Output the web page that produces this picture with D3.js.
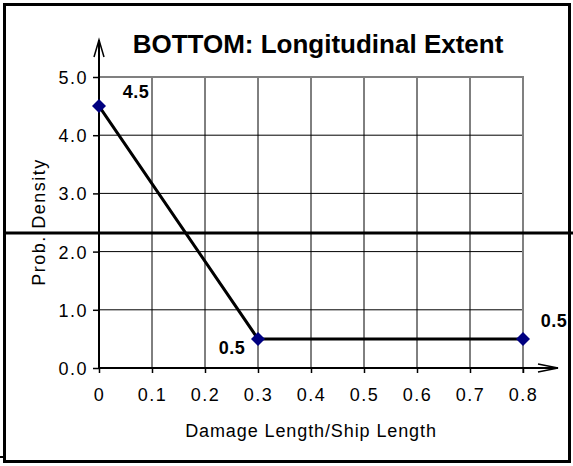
<!DOCTYPE html>
<html>
<head>
<meta charset="utf-8">
<script src="https://cdn.jsdelivr.net/npm/d3@7"></script>
<style>
  body { margin: 0; background: #fff; }
  text { font-family: "Liberation Sans", Arial, sans-serif; }
</style>
</head>
<body>
<div id="chart"></div>
<script>
// données
var xValues = [0, 0.3, 0.8];
var yValues = [4.5, 0.5, 0.5];
var pointLabels = ["4.5", "0.5", "0.5"];
var xTicks = [0, 0.1, 0.2, 0.3, 0.4, 0.5, 0.6, 0.7, 0.8];
var yTicks = [0, 1, 2, 3, 4, 5];

function chart() {
    var width = 573, height = 466;
    var pLeft = 99, pRight = 523, pTop = 77, pBottom = 368;

    var x = d3.scaleLinear().domain([0, 0.8]).range([pLeft, pRight]);
    var y = d3.scaleLinear().domain([0, 5]).range([pBottom, pTop]);

    var svg = d3.select("#chart").append("svg")
        .attr("width", width)
        .attr("height", height);

    svg.append("rect").attr("width", width).attr("height", height).attr("fill", "#fff");

    // grille
    svg.append("g").selectAll("line")
        .data(xTicks.slice(1, -1))
        .enter().append("line")
        .attr("x1", function (d) { return x(d); })
        .attr("x2", function (d) { return x(d); })
        .attr("y1", pTop).attr("y2", pBottom)
        .attr("stroke", "#000").attr("stroke-width", 1);

    svg.append("g").selectAll("line")
        .data(yTicks.slice(1, -1))
        .enter().append("line")
        .attr("x1", pLeft).attr("x2", pRight)
        .attr("y1", function (d) { return y(d); })
        .attr("y2", function (d) { return y(d); })
        .attr("stroke", "#000").attr("stroke-width", 1);

    // bord gris de la zone
    svg.append("path")
        .attr("d", "M" + pLeft + "," + y(5) + "H" + x(0.8) + "V" + (pBottom + 5))
        .attr("fill", "none").attr("stroke", "#808080").attr("stroke-width", 2);

    // axes
    var yAxis = d3.axisLeft(y).tickValues(yTicks).tickSize(6).tickPadding(5)
        .tickFormat(d3.format(".1f"));
    var gy = svg.append("g").attr("transform", "translate(" + pLeft + ",0)").call(yAxis);
    gy.attr("font-size", 18).attr("font-family", "Liberation Sans, Arial, sans-serif");
    gy.select(".domain").remove();
    gy.selectAll("text").attr("fill", "#000").attr("letter-spacing", 1.5).attr("dy", "0.36em");
    gy.selectAll("line").attr("stroke-width", 1.5);

    var xAxis = d3.axisBottom(x).tickValues(xTicks).tickSize(5).tickPadding(15)
        .tickFormat(function (d) { return d === 0 ? "0" : d3.format(".1f")(d); });
    var gx = svg.append("g").attr("transform", "translate(0," + pBottom + ")").call(xAxis);
    gx.attr("font-size", 18).attr("font-family", "Liberation Sans, Arial, sans-serif");
    gx.select(".domain").remove();
    gx.selectAll("text").attr("fill", "#000").attr("letter-spacing", 1.5);
    gx.selectAll("line").attr("stroke-width", 1.5);

    // lignes d'axe avec flèches
    svg.append("line").attr("x1", pLeft).attr("x2", pLeft).attr("y1", pBottom + 1).attr("y2", 40)
        .attr("stroke", "#000").attr("stroke-width", 2);
    svg.append("path").attr("d", "M" + (pLeft - 5) + ",57L" + pLeft + ",40L" + (pLeft + 5) + ",57")
        .attr("fill", "none").attr("stroke", "#000").attr("stroke-width", 1.5);
    svg.append("line").attr("x1", pLeft - 1).attr("x2", 558).attr("y1", pBottom).attr("y2", pBottom)
        .attr("stroke", "#000").attr("stroke-width", 2);
    svg.append("path").attr("d", "M538," + (pBottom - 4) + "L558," + pBottom + "L538," + (pBottom + 4))
        .attr("fill", "none").attr("stroke", "#000").attr("stroke-width", 1.5);

    // série
    var pts = xValues.map(function (d, i) { return { x: d, y: yValues[i], label: pointLabels[i] }; });
    var line = d3.line().x(function (d) { return x(d.x); }).y(function (d) { return y(d.y); });
    svg.append("path").datum(pts).attr("d", line)
        .attr("fill", "none").attr("stroke", "#000").attr("stroke-width", 3);

    svg.selectAll(".pt").data(pts).enter().append("path")
        .attr("class", "pt")
        .attr("transform", function (d) { return "translate(" + x(d.x) + "," + y(d.y) + ")"; })
        .attr("d", "M0,-7L7,0L0,7L-7,0Z")
        .attr("fill", "#000080");

    // étiquettes de points
    var labelOffsets = [[37, -15], [-26, 9], [31, -18]];
    svg.selectAll(".lbl").data(pts).enter().append("text")
        .attr("class", "lbl")
        .attr("x", function (d, i) { return x(d.x) + labelOffsets[i][0]; })
        .attr("y", function (d, i) { return y(d.y) + labelOffsets[i][1]; })
        .attr("text-anchor", "middle")
        .attr("dy", "0.36em")
        .attr("font-size", 18).attr("font-weight", "bold").attr("letter-spacing", 0.5)
        .text(function (d) { return d.label; });

    // titres
    svg.append("text").attr("x", 318).attr("y", 53).attr("text-anchor", "middle")
        .attr("font-size", 26).attr("font-weight", "bold")
        .text("BOTTOM: Longitudinal Extent");

    svg.append("text").attr("x", 311).attr("y", 437).attr("text-anchor", "middle")
        .attr("font-size", 18).attr("letter-spacing", 0.9)
        .text("Damage Length/Ship Length");

    svg.append("text").attr("transform", "translate(45,222) rotate(-90)")
        .attr("text-anchor", "middle").attr("font-size", 18).attr("letter-spacing", 1.5)
        .text("Prob. Density");

    // cadre
    svg.append("rect").attr("x", 4.5).attr("y", 4.5).attr("width", 565).attr("height", 457)
        .attr("fill", "none").attr("stroke", "#000").attr("stroke-width", 3);
    svg.append("line").attr("x1", 3).attr("x2", 573).attr("y1", 233).attr("y2", 233)
        .attr("stroke", "#000").attr("stroke-width", 3);
    svg.append("line").attr("x1", 0).attr("x2", 6).attr("y1", 457).attr("y2", 457)
        .attr("stroke", "#000").attr("stroke-width", 2);
}

chart();
</script>
</body>
</html>
